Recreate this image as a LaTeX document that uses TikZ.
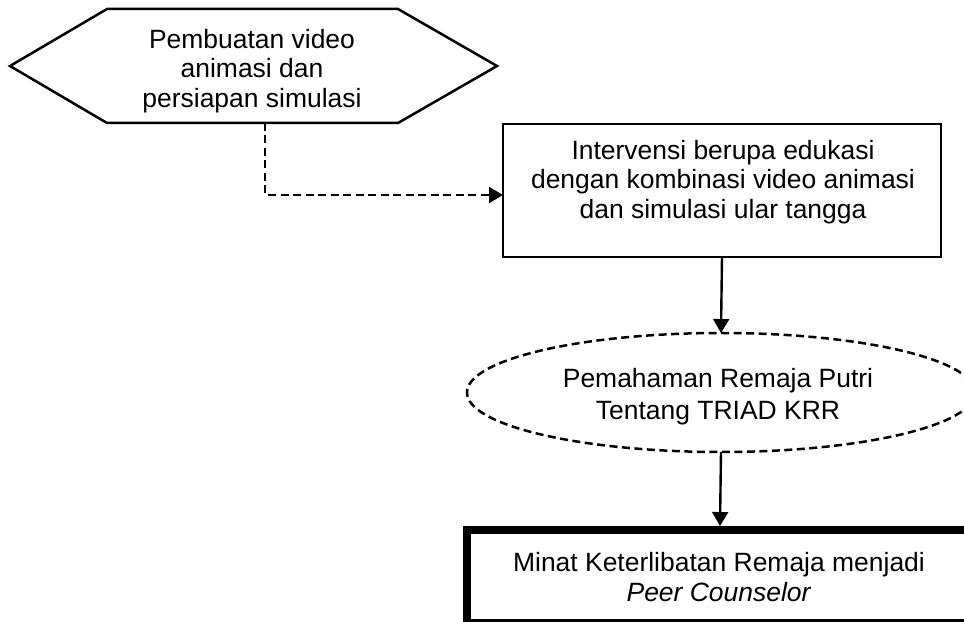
\documentclass[tikz,border=0pt]{standalone}
\usepackage{fontspec}
\setmainfont{Liberation Sans}
\usetikzlibrary{arrows.meta,shapes.geometric}
\begin{document}
\begin{tikzpicture}[x=0.48pt,y=-0.48pt,
  line width=1.15pt,
  txt/.style={font=\fontsize{12.7}{14}\selectfont, align=center, inner sep=0pt},
  arr/.style={-{Triangle[length=6.7pt,width=7.6pt]}},
  dsh/.style={dash pattern=on 3.84pt off 2.16pt},
  boxa/.style={draw, line width=1.3pt, rectangle, inner sep=0pt, outer sep=0pt},
  ell/.style={draw, ellipse, dsh, line width=1.2pt, inner sep=0pt, outer sep=0pt},
  boxb/.style={draw, line width=3.84pt, rectangle, inner sep=0pt, outer sep=0pt},
]
\clip (0,0) rectangle (964,622);
% hexagon
\draw[line width=1.2pt, line join=miter] (107,9) -- (398,9) -- (497,66) -- (398,123) -- (107,123) -- (10,66) -- cycle;
\node[txt] (hex) at (252,71) {Pembuatan video\\animasi dan\\persiapan simulasi};
\coordinate (hexb) at (265,123);
% intervention box
\node[boxa, minimum width=210.24pt, minimum height=63.84pt] (interv) at (722,190.5) {};
\node[txt] (intervt) at (723,182) {Intervensi berupa edukasi\\dengan kombinasi video animasi\\dan simulasi ular tangga};
% ellipse
\node[ell, minimum width=243.84pt, minimum height=57.12pt] (pem) at (721,392.5) {};
\node[txt, font=\fontsize{12.7}{15.5}\selectfont] (pemt) at (718,397) {Pemahaman Remaja Putri\\Tentang TRIAD KRR};
% bottom box
\node[boxb, minimum width=242.88pt, minimum height=44.64pt] (minat) at (720,576.5) {};
\node[txt] (minatt) at (719,577) {Minat Keterlibatan Remaja menjadi\\\textit{Peer Counselor}};
% connectors
\draw[dsh, arr] (hexb) |- ([yshift=-2.16pt]interv.west);
\draw[arr] (interv.south) -- (pem.north);
\draw[arr] (pem.south) -- ([yshift=1.92pt]minat.north);
\end{tikzpicture}
\end{document}
